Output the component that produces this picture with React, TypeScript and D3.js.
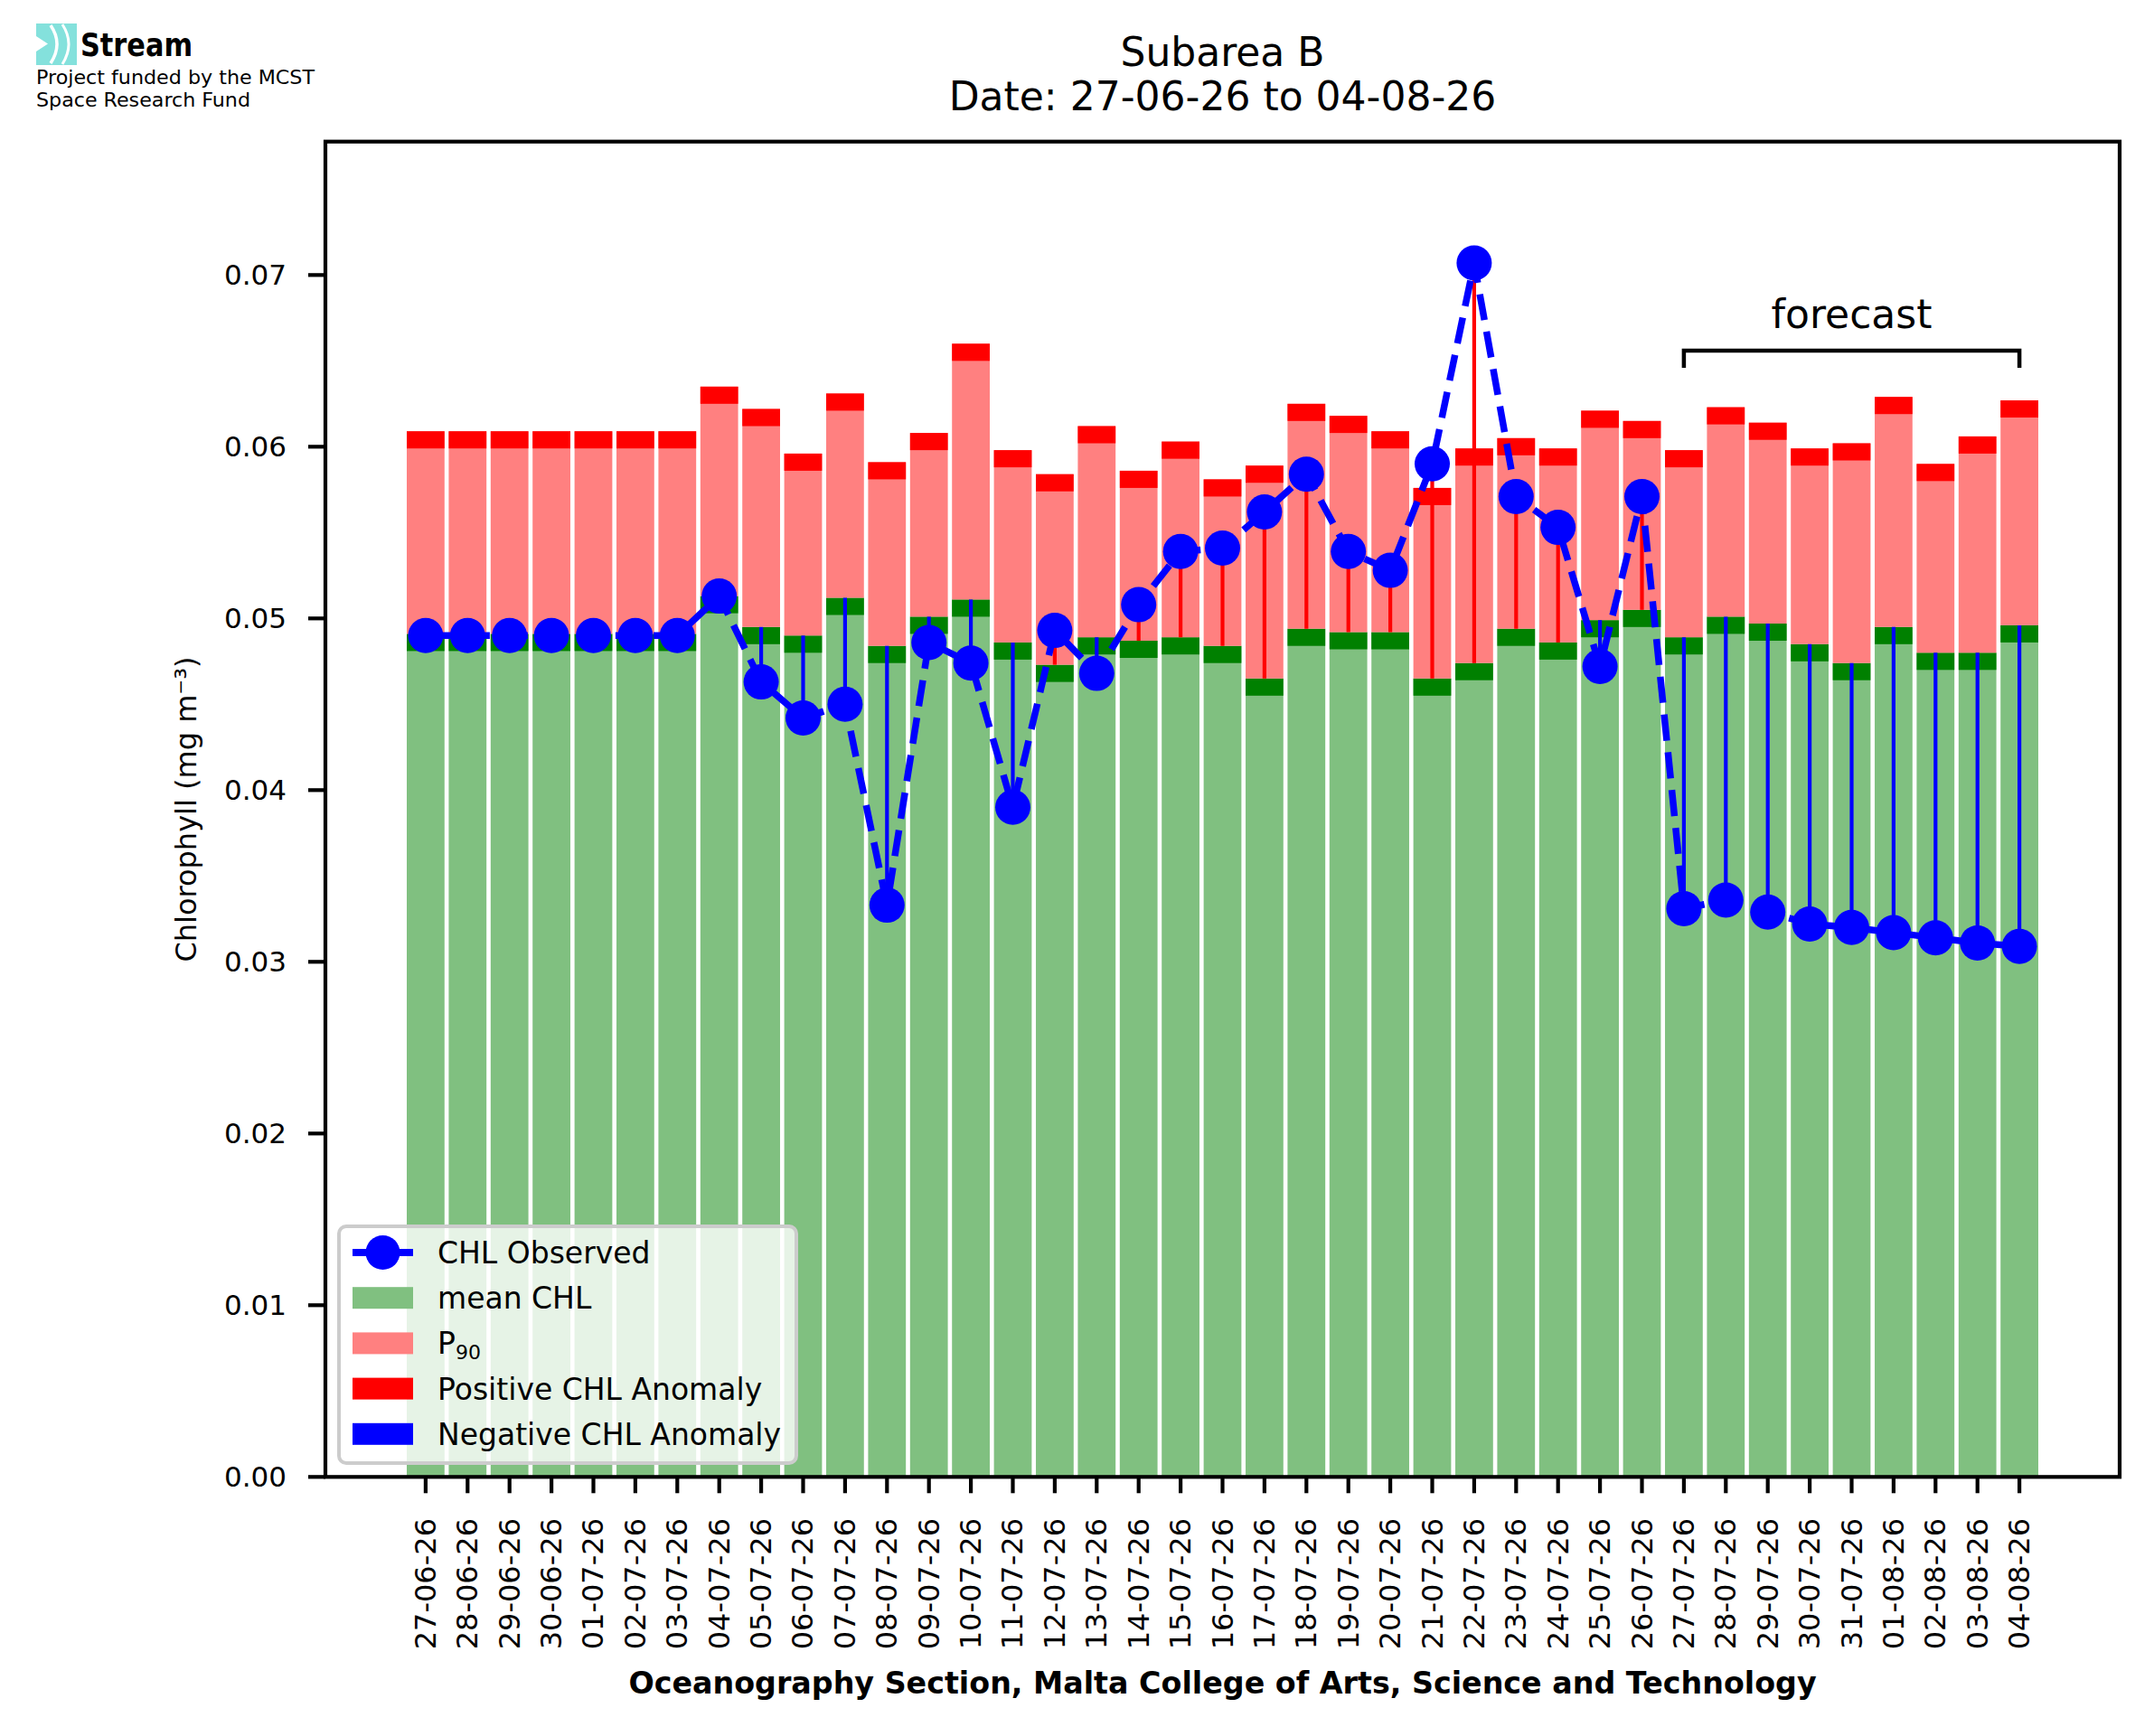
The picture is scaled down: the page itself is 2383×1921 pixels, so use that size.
import React from 'react'
import * as d3 from 'd3'

const dates = [
  '27-06-26', '28-06-26', '29-06-26', '30-06-26', '01-07-26', '02-07-26', '03-07-26', '04-07-26',
  '05-07-26', '06-07-26', '07-07-26', '08-07-26', '09-07-26', '10-07-26', '11-07-26', '12-07-26',
  '13-07-26', '14-07-26', '15-07-26', '16-07-26', '17-07-26', '18-07-26', '19-07-26', '20-07-26',
  '21-07-26', '22-07-26', '23-07-26', '24-07-26', '25-07-26', '26-07-26', '27-07-26', '28-07-26',
  '29-07-26', '30-07-26', '31-07-26', '01-08-26', '02-08-26', '03-08-26', '04-08-26',
]

// mean CHL (top of the green bar)
const meanChl = [
  0.0491, 0.0491, 0.0491, 0.0491, 0.0491, 0.0491, 0.0491, 0.0513,
  0.0495, 0.0490, 0.0512, 0.0484, 0.0501, 0.0511, 0.0486, 0.0473,
  0.0489, 0.0487, 0.0489, 0.0484, 0.0465, 0.0494, 0.0492, 0.0492,
  0.0465, 0.0474, 0.0494, 0.0486, 0.0499, 0.0505, 0.0489, 0.0501,
  0.0497, 0.0485, 0.0474, 0.0495, 0.0480, 0.0480, 0.0496,
]

// 90th percentile (top of the red bar)
const p90Chl = [
  0.0609, 0.0609, 0.0609, 0.0609, 0.0609, 0.0609, 0.0609, 0.0635,
  0.0622, 0.0596, 0.0631, 0.0591, 0.0608, 0.0660, 0.0598, 0.0584,
  0.0612, 0.0586, 0.0603, 0.0581, 0.0589, 0.0625, 0.0618, 0.0609,
  0.0576, 0.0599, 0.0605, 0.0599, 0.0621, 0.0615, 0.0598, 0.0623,
  0.0614, 0.0599, 0.0602, 0.0629, 0.0590, 0.0606, 0.0627,
]

// observed / forecast CHL
const obsChl = [
  0.0490, 0.0490, 0.0490, 0.0490, 0.0490, 0.0490, 0.0490, 0.0513,
  0.0463, 0.0442, 0.0450, 0.0333, 0.0486, 0.0474, 0.0390, 0.0493,
  0.0468, 0.0508, 0.0539, 0.0541, 0.0562, 0.0584, 0.0539, 0.0528,
  0.0590, 0.0707, 0.0571, 0.0553, 0.0472, 0.0571, 0.0331, 0.0336,
  0.0329, 0.0322, 0.0320, 0.0317, 0.0314, 0.0311, 0.0309,
]

const yTicks = [0, 0.01, 0.02, 0.03, 0.04, 0.05, 0.06, 0.07]
const forecastFrom = '27-07-26'
const forecastTo = '04-08-26'
const bracketLevel = 0.0656
const bracketTip = 0.0646
const capValue = 0.001 // darker band at the top of each bar

const width = 2383
const height = 1921
const plot = { left: 360, right: 2345, top: 156.7, bottom: 1634.3 }
const font = 'DejaVu Sans'

interface Row {
  date: string
  mean: number
  p90: number
  obs: number
}

const rows: Row[] = dates.map((d, i) => ({ date: d, mean: meanChl[i], p90: p90Chl[i], obs: obsChl[i] }))

const x = d3.scaleBand<string>()
  .domain(dates)
  .range([plot.left, plot.right])
  .paddingInner(0.1)
  .paddingOuter(1.94)

const y = d3.scaleLinear()
  .domain([0, (d3.max(obsChl) as number) * 1.1])
  .range([plot.bottom, plot.top])

const cx = (d: string) => (x(d) as number) + x.bandwidth() / 2

const obsLine = d3.line<Row>()
  .x(d => cx(d.date))
  .y(d => y(d.obs))

const legendItems = [
  { kind: 'line', color: '#0000ff', label: 'CHL Observed' },
  { kind: 'patch', color: '#80c080', label: 'mean CHL' },
  { kind: 'patch', color: '#ff8080', label: 'P' },
  { kind: 'patch', color: '#ff0000', label: 'Positive CHL Anomaly' },
  { kind: 'patch', color: '#0000ff', label: 'Negative CHL Anomaly' },
]

function Logo() {
  return (
    <g>
      <rect x={40} y={26} width={45} height={46} fill="#84e1dc" />
      <path d="M40,40 L53,48.5 L40,57" fill="white" />
      <path d="M56,28 Q70,48.5 56,70" fill="none" stroke="white" strokeWidth={3.5} />
      <path d="M69,27 Q83,48.5 69,71" fill="none" stroke="white" strokeWidth={3} />
      <text x={89} y={62} fontFamily={font} fontWeight="bold" fontSize={35}
        textLength={124} lengthAdjust="spacingAndGlyphs">Stream</text>
      <text x={40} y={93} fontFamily={font} fontSize={21}
        textLength={308} lengthAdjust="spacingAndGlyphs">Project funded by the MCST</text>
      <text x={40} y={118} fontFamily={font} fontSize={21}
        textLength={237} lengthAdjust="spacingAndGlyphs">Space Research Fund</text>
    </g>
  )
}

function Chart() {
  const bw = x.bandwidth()
  const x1 = cx(forecastFrom)
  const x2 = cx(forecastTo)
  const legendRow0 = 1386
  const legendStep = 50.2

  return (
    <svg width={width} height={height} viewBox={`0 0 ${width} ${height}`}
      style={{ position: 'absolute', left: 0, top: 0, background: 'white' }}>
      <Logo />

      {/* title */}
      <text x={(plot.left + plot.right) / 2} y={73} textAnchor="middle" fontFamily={font} fontSize={44}>Subarea B</text>
      <text x={(plot.left + plot.right) / 2} y={122} textAnchor="middle" fontFamily={font} fontSize={44}>
        Date: {dates[0]} to {dates[dates.length - 1]}
      </text>

      {/* stacked bars */}
      {rows.map(d => {
        const bx = x(d.date) as number
        return (
          <g key={d.date}>
            <rect x={bx} width={bw} y={y(d.mean)} height={y(0) - y(d.mean)} fill="#80c080" />
            <rect x={bx} width={bw} y={y(d.mean)} height={y(d.mean - capValue) - y(d.mean)} fill="#008000" />
            <rect x={bx} width={bw} y={y(d.p90)} height={y(d.mean) - y(d.p90)} fill="#ff8080" />
            <rect x={bx} width={bw} y={y(d.p90)} height={y(d.p90 - capValue) - y(d.p90)} fill="#ff0000" />
          </g>
        )
      })}

      {/* anomaly lines */}
      {rows.map(d => (
        <line key={'a' + d.date} x1={cx(d.date)} x2={cx(d.date)} y1={y(d.mean)} y2={y(d.obs)}
          stroke={d.obs >= d.mean ? '#ff0000' : '#0000ff'} strokeWidth={4.2} />
      ))}

      {/* observed series */}
      <path d={obsLine(rows) as string} fill="none" stroke="#0000ff" strokeWidth={7.5} strokeDasharray="29,13" />
      {rows.map(d => (
        <circle key={'c' + d.date} cx={cx(d.date)} cy={y(d.obs)} r={19.5} fill="#0000ff" />
      ))}

      {/* forecast bracket */}
      <path d={`M${x1},${y(bracketTip)} V${y(bracketLevel)} H${x2} V${y(bracketTip)}`}
        fill="none" stroke="black" strokeWidth={4.5} />
      <text x={(x1 + x2) / 2} y={y(bracketLevel) - 25} textAnchor="middle" fontFamily={font} fontSize={44}>forecast</text>

      {/* frame */}
      <rect x={plot.left} y={plot.top} width={plot.right - plot.left} height={plot.bottom - plot.top}
        fill="none" stroke="black" strokeWidth={4.2} />

      {/* y axis */}
      {yTicks.map(t => (
        <g key={'y' + t}>
          <line x1={plot.left - 19} x2={plot.left} y1={y(t)} y2={y(t)} stroke="black" strokeWidth={4.2} />
          <text x={317} y={y(t)} dy="0.36em" textAnchor="end" fontFamily={font} fontSize={31}>{d3.format('.2f')(t)}</text>
        </g>
      ))}
      <text transform={`translate(206,${(plot.top + plot.bottom) / 2}) rotate(-90)`} textAnchor="middle"
        dominantBaseline="central" fontFamily={font} fontSize={32}>Chlorophyll (mg m⁻³)</text>

      {/* x axis */}
      {dates.map(d => (
        <g key={'x' + d}>
          <line x1={cx(d)} x2={cx(d)} y1={plot.bottom} y2={plot.bottom + 18} stroke="black" strokeWidth={4.2} />
          <text transform={`translate(${cx(d)},1680) rotate(-90)`} textAnchor="end" dominantBaseline="central"
            fontFamily={font} fontSize={32}>{d}</text>
        </g>
      ))}
      <text x={(plot.left + plot.right) / 2} y={1874} textAnchor="middle" fontFamily={font} fontWeight="bold"
        fontSize={33.3}>Oceanography Section, Malta College of Arts, Science and Technology</text>

      {/* legend */}
      <rect x={375} y={1357} width={506} height={262} rx={8} fill="white" fillOpacity={0.8}
        stroke="#cccccc" strokeWidth={4} />
      {legendItems.map((it, i) => {
        const cy = legendRow0 + i * legendStep
        return (
          <g key={it.label}>
            {it.kind === 'line' ? (
              <g>
                <line x1={390} x2={457} y1={cy} y2={cy} stroke={it.color} strokeWidth={8} />
                <circle cx={423.5} cy={cy} r={19} fill={it.color} />
              </g>
            ) : (
              <rect x={390} y={cy - 12} width={67} height={24} fill={it.color} />
            )}
            <text x={484} y={cy + 12} fontFamily={font} fontSize={33}>
              {it.label}
              {it.label === 'P' && <tspan fontSize={22} dy={6}>90</tspan>}
            </text>
          </g>
        )
      })}
    </svg>
  )
}

export default function App() {
  return <Chart />
}
